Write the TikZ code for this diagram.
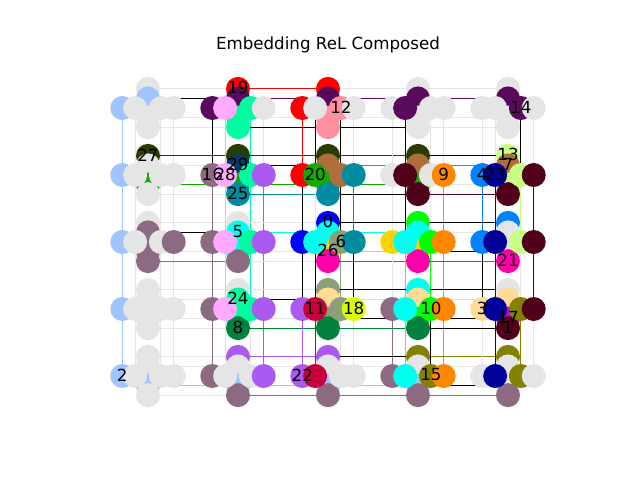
\documentclass[tikz,border=0pt]{standalone}
\usepackage{fontspec}
\setmainfont{DejaVu Sans}
\pgfdeclarelayer{bg}
\pgfsetlayers{bg,main}
\definecolor{cG}{RGB}{229,229,229}
\definecolor{cLB}{RGB}{160,196,255}
\definecolor{cDP}{RGB}{90,10,92}
\definecolor{cPK}{RGB}{255,170,255}
\definecolor{cMT}{RGB}{0,252,160}
\definecolor{cRD}{RGB}{255,0,0}
\definecolor{cPP}{RGB}{255,144,160}
\definecolor{cDO}{RGB}{42,60,0}
\definecolor{cMV}{RGB}{140,106,130}
\definecolor{cNV}{RGB}{0,60,100}
\definecolor{cTL}{RGB}{0,140,160}
\definecolor{cPU}{RGB}{170,90,240}
\definecolor{cGR}{RGB}{20,170,0}
\definecolor{cBR}{RGB}{176,110,60}
\definecolor{cOR}{RGB}{255,135,0}
\definecolor{cMR}{RGB}{80,0,25}
\definecolor{cAZ}{RGB}{0,130,255}
\definecolor{cDN}{RGB}{0,0,150}
\definecolor{cLG}{RGB}{200,255,130}
\definecolor{cBL}{RGB}{0,0,255}
\definecolor{cCY}{RGB}{0,255,238}
\definecolor{cSG}{RGB}{140,160,120}
\definecolor{cGD}{RGB}{255,210,0}
\definecolor{cGN}{RGB}{0,255,0}
\definecolor{cMG}{RGB}{255,0,170}
\definecolor{cCR}{RGB}{200,0,60}
\definecolor{cYG}{RGB}{220,255,0}
\definecolor{cPC}{RGB}{255,220,150}
\definecolor{cDG}{RGB}{0,130,60}
\definecolor{cOL}{RGB}{130,130,0}
\definecolor{cXS}{RGB}{200,0,200}
\tikzset{
  qub/.style={circle,inner sep=0pt,minimum size=24pt,draw=none,fill=#1},
  edge/.style={line width=1.2pt},
  lbl/.style={font=\fontsize{16.67}{20}\selectfont,inner sep=0pt,text=black,yshift=1pt},
  ttl/.style={font=\fontsize{16.67}{20}\selectfont,inner sep=0pt,anchor=base}
}
\newcommand\mkh[4]{%
  \expandafter\gdef\csname nc@h-#1-#2-#3\endcsname{#4}%
  \node[qub=c#4] (h-#1-#2-#3) at ({148+90*#1+12.857*(#3-2+(#3>1))},{108+67*#2}) {};}
\newcommand\mkv[4]{%
  \expandafter\gdef\csname nc@v-#1-#2-#3\endcsname{#4}%
  \node[qub=c#4] (v-#1-#2-#3) at ({148+90*#1},{108+67*#2+9.571*(#3-2+(#3>1))}) {};}
\newcommand\hrow[6]{\mkh{#1}{#2}{0}{#3}\mkh{#1}{#2}{1}{#4}\mkh{#1}{#2}{2}{#5}\mkh{#1}{#2}{3}{#6}}
\newcommand\vrow[6]{\mkv{#1}{#2}{0}{#3}\mkv{#1}{#2}{1}{#4}\mkv{#1}{#2}{2}{#5}\mkv{#1}{#2}{3}{#6}}
\def\cgname{G}
\newcommand\edg[2]{%
  \edef\ca{\csname nc@#1\endcsname}%
  \edef\cb{\csname nc@#2\endcsname}%
  \ifx\ca\cb
    \ifx\ca\cgname\def\ec{cG}\else\edef\ec{c\ca}\fi
  \else\def\ec{cG}\fi
  \draw[edge,draw=\ec] (#1.center) -- (#2.center);}
\begin{document}
\begin{tikzpicture}[x=1pt,y=-1pt]
\useasboundingbox (0,0) rectangle (640,480);
\node[ttl] (title) at (328,49.3) {Embedding ReL Composed};
% row 0
\vrow{0}{0}{G}{LB}{G}{G} \hrow{0}{0}{LB}{G}{G}{G}
\vrow{1}{0}{RD}{DP}{MT}{MT} \hrow{1}{0}{DP}{PK}{MT}{G}
\vrow{2}{0}{RD}{DP}{PP}{PP} \hrow{2}{0}{RD}{G}{PP}{G}
\vrow{3}{0}{G}{DP}{G}{G} \hrow{3}{0}{G}{DP}{G}{G}
\vrow{4}{0}{G}{DP}{G}{G} \hrow{4}{0}{G}{G}{DP}{G}
% row 1
\vrow{0}{1}{DO}{G}{GR}{G} \hrow{0}{1}{LB}{G}{G}{G}
\vrow{1}{1}{DO}{NV}{GR}{TL} \hrow{1}{1}{MV}{PK}{MT}{PU}
\vrow{2}{1}{DO}{BR}{GR}{TL} \hrow{2}{1}{RD}{GR}{BR}{TL}
\vrow{3}{1}{DO}{BR}{GR}{MR} \hrow{3}{1}{G}{MR}{G}{OR}
\vrow{4}{1}{LG}{BR}{LG}{MR} \hrow{4}{1}{AZ}{DN}{LG}{MR}
% row 2
\vrow{0}{2}{G}{MV}{MV}{MV} \hrow{0}{2}{LB}{G}{G}{MV}
\vrow{1}{2}{G}{CY}{CY}{MV} \hrow{1}{2}{MV}{PK}{MT}{PU}
\vrow{2}{2}{BL}{CY}{GD}{MG} \hrow{2}{2}{BL}{CY}{SG}{TL}
\vrow{3}{2}{GN}{CY}{GD}{MG} \hrow{3}{2}{GD}{CY}{GN}{OR}
\vrow{4}{2}{AZ}{G}{G}{MG} \hrow{4}{2}{AZ}{DN}{LG}{MR}
% row 3
\vrow{0}{3}{G}{G}{G}{G} \hrow{0}{3}{LB}{G}{G}{G}
\vrow{1}{3}{G}{MT}{MT}{DG} \hrow{1}{3}{MV}{PK}{MT}{PU}
\vrow{2}{3}{SG}{PC}{SG}{DG} \hrow{2}{3}{PU}{CR}{SG}{YG}
\vrow{3}{3}{CY}{PC}{GN}{DG} \hrow{3}{3}{MV}{CY}{GN}{OR}
\vrow{4}{3}{G}{PC}{XS}{MR} \hrow{4}{3}{PC}{DN}{OL}{MR}
% row 4
\vrow{0}{4}{G}{G}{LB}{G} \hrow{0}{4}{LB}{G}{G}{G}
\vrow{1}{4}{PU}{G}{LB}{MV} \hrow{1}{4}{MV}{G}{G}{PU}
\vrow{2}{4}{PU}{G}{LB}{MV} \hrow{2}{4}{PU}{CR}{G}{G}
\vrow{3}{4}{OL}{G}{LB}{MV} \hrow{3}{4}{MV}{CY}{OL}{OR}
\vrow{4}{4}{OL}{G}{G}{MV} \hrow{4}{4}{G}{DN}{OL}{G}
\begin{pgfonlayer}{bg}
\fill[white] (0,0) rectangle (640,480);
\foreach \ci in {0,...,4}{\foreach \ri in {0,...,4}{%
  \foreach \ka in {0,...,3}{\foreach \kb in {0,...,3}{\edg{h-\ci-\ri-\ka}{v-\ci-\ri-\kb}}}%
  \ifnum\ri<4 \pgfmathtruncatemacro\rn{\ri+1}\foreach \ka in {0,...,3}{\edg{h-\ci-\ri-\ka}{h-\ci-\rn-\ka}}\fi
  \ifnum\ci<4 \pgfmathtruncatemacro\cn{\ci+1}\foreach \ka in {0,...,3}{\edg{v-\ci-\ri-\ka}{v-\cn-\ri-\ka}}\fi
}}
\foreach \a/\b in {h-1-0-0/h-1-1-0, h-2-1-0/h-2-2-0, h-2-2-0/h-2-3-0, h-2-0-1/h-2-1-1,
  h-2-2-1/h-2-3-1, h-2-0-2/h-2-1-2, h-2-1-2/h-2-2-2, h-2-2-3/h-2-3-3, h-3-0-1/h-3-1-1,
  h-3-1-1/h-3-2-1, h-3-3-2/h-3-4-2, h-4-0-2/h-4-1-2, h-4-2-0/h-4-3-0,
  v-0-0-1/v-1-0-1, v-1-0-3/v-2-0-3, v-2-0-3/v-3-0-3, v-3-1-0/v-4-1-0, v-1-1-1/v-2-1-1,
  v-2-1-3/v-3-1-3, v-2-2-0/v-3-2-0, v-3-2-0/v-4-2-0, v-0-2-1/v-1-2-1, v-3-2-2/v-4-2-2,
  v-1-3-1/v-2-3-1, v-2-3-2/v-3-3-2, v-3-3-2/v-4-3-2, v-3-3-3/v-4-3-3, v-2-3-0/v-3-3-0,
  v-3-3-0/v-4-3-0, v-2-4-0/v-3-4-0, v-3-4-2/v-4-4-2}
  {\draw[edge,draw=black] (\a.center) -- (\b.center);}
\end{pgfonlayer}
% labels
\node[lbl] (t0) at (v-2-2-0.center) {0};
\node[lbl] (t1) at (v-4-3-3.center) {1};
\node[lbl] (t2) at (h-0-4-0.center) {2};
\node[lbl] (t3) at (h-4-3-0.center) {3};
\node[lbl] (t4) at (h-4-1-0.center) {4};
\node[lbl] (t5) at (v-1-2-1.center) {5};
\node[lbl] (t6) at (h-2-2-2.center) {6};
\node[lbl] (t7) at (v-4-1-1.center) {7};
\node[lbl] (t8) at (v-1-3-3.center) {8};
\node[lbl] (t9) at (h-3-1-3.center) {9};
\node[lbl] (t10) at (h-3-3-2.center) {10};
\node[lbl] (t11) at (h-2-3-1.center) {11};
\node[lbl] (t12) at (h-2-0-2.center) {12};
\node[lbl] (t13) at (v-4-1-0.center) {13};
\node[lbl] (t14) at (h-4-0-2.center) {14};
\node[lbl] (t15) at (h-3-4-2.center) {15};
\node[lbl] (t16) at (h-1-1-0.center) {16};
\node[lbl] (t17) at (v-4-3-2.center) {17};
\node[lbl] (t18) at (h-2-3-3.center) {18};
\node[lbl] (t19) at (v-1-0-0.center) {19};
\node[lbl] (t20) at (h-2-1-1.center) {20};
\node[lbl] (t21) at (v-4-2-3.center) {21};
\node[lbl] (t22) at (h-2-4-0.center) {22};
\node[lbl] (t23) at (h-4-1-1.center) {23};
\node[lbl] (t24) at (v-1-3-1.center) {24};
\node[lbl] (t25) at (v-1-1-3.center) {25};
\node[lbl] (t26) at (v-2-2-2.center) {26};
\node[lbl] (t27) at (v-0-1-0.center) {27};
\node[lbl] (t28) at (h-1-1-1.center) {28};
\node[lbl] (t29) at (v-1-1-1.center) {29};
\end{tikzpicture}
\end{document}
